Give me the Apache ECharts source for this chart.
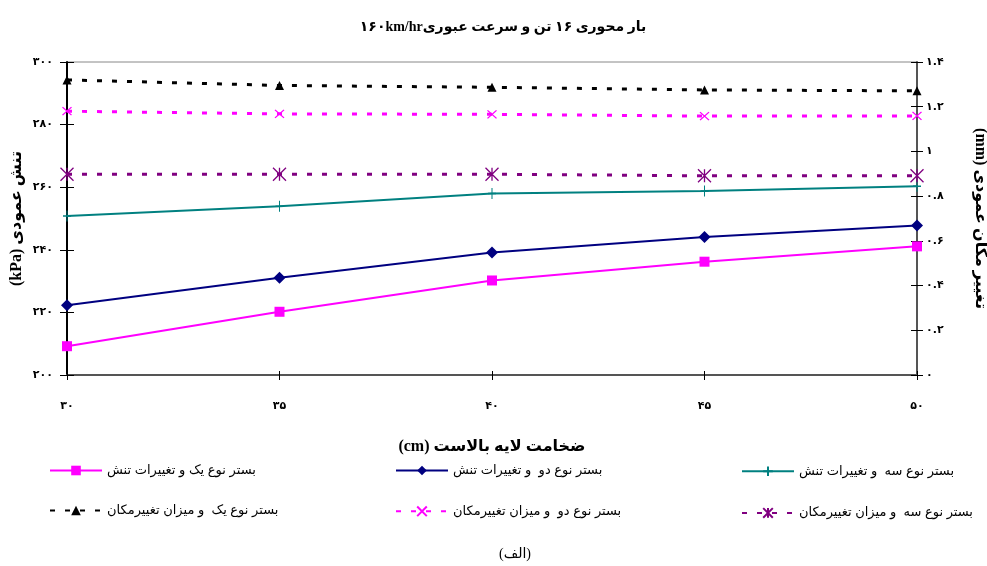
<!DOCTYPE html>
<html>
<head>
<meta charset="utf-8">
<script src="https://cdn.jsdelivr.net/npm/echarts@6/dist/echarts.min.js"></script>
<style>
html,body{margin:0;padding:0;background:#fff;}
#chart{width:987px;height:566px;}
</style>
</head>
<body>
<div id="chart"></div>
<script>
// ---- data ----
const thickness = [30, 35, 40, 45, 50];
const stressType1 = [209.2, 220.2, 230.2, 236.2, 241.1];
const stressType2 = [222.3, 231.1, 239.1, 244.1, 247.8];
const stressType3 = [250.8, 253.9, 258.0, 258.8, 260.3];
const dispType1 = [1.32, 1.295, 1.287, 1.275, 1.271];
const dispType2 = [1.18, 1.168, 1.166, 1.158, 1.159];
const dispType3 = [0.898, 0.898, 0.898, 0.891, 0.891];
const seriesNames = [
  'بستر نوع یک و تغییرات تنش',
  'بستر نوع دو  و تغییرات تنش',
  'بستر نوع سه  و تغییرات تنش',
  'بستر نوع یک  و میزان تغییرمکان',
  'بستر نوع دو  و میزان تغییرمکان',
  'بستر نوع سه  و میزان تغییرمکان'
];
const titleText = 'بار محوری ۱۶ تن و سرعت عبوری۱۶۰km/hr';
const xName = 'ضخامت لایه بالاست (cm)';
const yLeftName = 'تنش عمودی (kPa)';
const yRightName = 'تغییر مکان عمودی (mm)';
const caption = '(الف)';

// ---- helpers ----
const RTL = s => '\u202B' + s + '\u202C';
const FA = '۰۱۲۳۴۵۶۷۸۹';
const toFa = v => String(v).replace(/[0-9]/g, d => FA[+d]);
const pairs = ys => thickness.map((x, i) => [x, ys[i]]);
const names = seriesNames.map(RTL);

const serifBold = {fontFamily: '"Liberation Serif","DejaVu Serif","DejaVu Sans",serif', fontWeight: 'bold'};
const tickFont = {fontFamily: '"DejaVu Sans","Liberation Sans",sans-serif', fontWeight: 'bold', fontSize: 11, color: '#000'};

const PLUS = 'path://M5,0L5,10M0,5L10,5';
const XMARK = 'path://M0,0L10,10M10,0L0,10';
const STAR = 'path://M0,0L10,10M10,0L0,10M5,0L5,10';

function solid(name, data, color, symbol, size, extra) {
  return Object.assign({
    name, type: 'line', xAxisIndex: 0, yAxisIndex: 0, data: pairs(data),
    symbol, symbolSize: size, showSymbol: true,
    lineStyle: {color, width: 2},
    itemStyle: {color},
    emphasis: {disabled: true}, z: 3
  }, extra || {});
}
function dotted(name, data, color, symbol, size, itemStyle) {
  return {
    name, type: 'line', xAxisIndex: 0, yAxisIndex: 1, data: pairs(data),
    symbol, symbolSize: size, showSymbol: true,
    lineStyle: {color, width: 3, type: [5, 10]},
    itemStyle: itemStyle || {color},
    emphasis: {disabled: true}, z: 3
  };
}

const legendBase = {
  orient: 'vertical', itemWidth: 52, itemHeight: 12, itemGap: 27, top: 459,
  textStyle: {fontFamily: '"Liberation Sans","DejaVu Sans",sans-serif', fontSize: 13, color: '#000'},
  selectedMode: false
};

const option = {
  backgroundColor: '#fff',
  animation: false,
  title: [
    {text: RTL(titleText), left: 498, top: 15, textAlign: 'center',
     textStyle: Object.assign({fontSize: 14, color: '#000'}, serifBold)},
    {text: RTL(caption), left: 510, top: 542, textAlign: 'center',
     textStyle: {fontFamily: '"Liberation Serif","DejaVu Sans",serif', fontSize: 14, fontWeight: 'normal', color: '#000'}}
  ],
  legend: [
    Object.assign({left: 44, data: [names[0], names[3]]}, legendBase),
    Object.assign({left: 390, data: [names[1], names[4]]}, legendBase),
    Object.assign({left: 736, data: [names[2], names[5]]}, legendBase)
  ],
  grid: {left: 67, right: 70, top: 62, bottom: 191, outerBoundsMode: 'none', containLabel: false,
         show: true, borderColor: '#888', borderWidth: 1, backgroundColor: 'transparent'},
  xAxis: [
    {type: 'value', min: 30, max: 50, interval: 5, position: 'bottom',
     name: RTL(xName), nameLocation: 'middle', nameGap: 64, nameMoveOverlap: false,
     nameTextStyle: Object.assign({fontSize: 16, color: '#000'}, serifBold),
     axisLine: {lineStyle: {color: '#555', width: 2}},
     axisTick: {show: true, length: 5, lineStyle: {color: '#000'}},
     axisLabel: Object.assign({margin: 26, formatter: v => toFa(v)}, tickFont),
     splitLine: {show: false}},
    {type: 'value', min: 30, max: 50, interval: 5, position: 'bottom',
     axisLine: {show: false}, axisTick: {show: true, inside: true, length: 4, lineStyle: {color: '#000'}},
     axisLabel: {show: false}, splitLine: {show: false}}
  ],
  yAxis: [
    {type: 'value', min: 200, max: 300, interval: 20, position: 'left',
     name: RTL(yLeftName), nameLocation: 'middle', nameGap: 42, nameRotate: 90, nameMoveOverlap: false,
     nameTextStyle: Object.assign({fontSize: 16, color: '#000'}, serifBold),
     axisLine: {show: true, lineStyle: {color: '#000', width: 2}},
     axisTick: {show: true, length: 7, lineStyle: {color: '#000'}},
     axisLabel: Object.assign({margin: 14, formatter: v => toFa(v)}, tickFont),
     splitLine: {show: false}},
    {type: 'value', min: 0, max: 1.4, interval: 0.2, position: 'right',
     name: RTL(yRightName), nameLocation: 'middle', nameGap: 55, nameRotate: -90, nameMoveOverlap: false,
     nameTextStyle: Object.assign({fontSize: 16, color: '#000'}, serifBold),
     axisLine: {show: true, lineStyle: {color: '#555', width: 2}},
     axisTick: {show: true, length: 6, lineStyle: {color: '#000'}},
     axisLabel: Object.assign({margin: 9, formatter: v => toFa(Math.round(v * 10) / 10)}, tickFont),
     splitLine: {show: false}},
    {type: 'value', min: 200, max: 300, interval: 20, position: 'left',
     axisLine: {show: false}, axisTick: {show: true, inside: true, length: 7, lineStyle: {color: '#000'}},
     axisLabel: {show: false}, splitLine: {show: false}},
    {type: 'value', min: 0, max: 1.4, interval: 0.2, position: 'right',
     axisLine: {show: false}, axisTick: {show: true, inside: true, length: 6, lineStyle: {color: '#000'}},
     axisLabel: {show: false}, splitLine: {show: false}}
  ],
  series: [
    solid(names[0], stressType1, '#ff00ff', 'rect', 10),
    solid(names[1], stressType2, '#000080', 'diamond', 12),
    solid(names[2], stressType3, '#008080', PLUS, [8, 11], {itemStyle: {color: 'none', borderColor: '#008080', borderWidth: 1.2}}),
    dotted(names[3], dispType1, '#000000', 'triangle', 9),
    dotted(names[4], dispType2, '#ff00ff', XMARK, [9, 8], {color: 'none', borderColor: '#ff00ff', borderWidth: 1.3}),
    dotted(names[5], dispType3, '#800080', STAR, [13, 13], {color: 'none', borderColor: '#800080', borderWidth: 1.3})
  ]
};

const chart = echarts.init(document.getElementById('chart'), null, {renderer: 'canvas'});
chart.setOption(option);
</script>
</body>
</html>
